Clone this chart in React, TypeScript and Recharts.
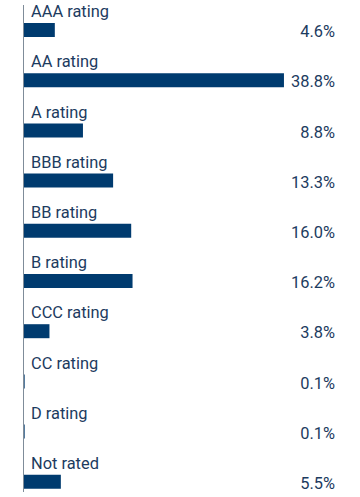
import React from "react";
import { BarChart, Bar, XAxis, YAxis } from "recharts";

const categories = [
  "AAA rating",
  "AA rating",
  "A rating",
  "BBB rating",
  "BB rating",
  "B rating",
  "CCC rating",
  "CC rating",
  "D rating",
  "Not rated",
];
const values = [4.6, 38.8, 8.8, 13.3, 16.0, 16.2, 3.8, 0.1, 0.1, 5.5];

const data = categories.map((name, i) => ({ name, value: values[i] }));
const valueByName: Record<string, number> = {};
data.forEach((d) => (valueByName[d.name] = d.value));

const TEXT = "#1c3b60";
const BAR = "#003b6f";
const AXIS = "#7f8c99";
const FONT = "Roboto, sans-serif";
const FS = 16.4;
const RIGHT_W = 43;

const LeftTick = (props: any) => {
  const { x, y, payload } = props;
  return (
    <text x={x + 7} y={y - 13} fill={TEXT} fontSize={FS} fontFamily={FONT} textAnchor="start">
      {payload.value}
    </text>
  );
};

const RightTick = (props: any) => {
  const { x, y, payload } = props;
  const v = valueByName[payload.value];
  return (
    <text x={x + RIGHT_W} y={y + 7} fill={TEXT} fontSize={FS} fontFamily={FONT} textAnchor="end">
      {v.toFixed(1) + "%"}
    </text>
  );
};

export default function App() {
  return (
    <div style={{ position: "absolute", left: 0, top: 0, background: "#fff" }}>
      <BarChart
        width={360}
        height={497}
        data={data}
        layout="vertical"
        margin={{ top: 5, right: 25, bottom: 5, left: 0 }}
      >
        <XAxis type="number" domain={[0, 40]} hide />
        <YAxis
          yAxisId="left"
          type="category"
          dataKey="name"
          width={24}
          tickLine={false}
          tickSize={0}
          tickMargin={0}
          padding={{ top: 0, bottom: -15 }}
          axisLine={{ stroke: AXIS, strokeWidth: 1, transform: "translate(-0.5,0)" }}
          tick={<LeftTick />}
          interval={0}
        />
        <YAxis
          yAxisId="right"
          orientation="right"
          type="category"
          dataKey="name"
          width={RIGHT_W}
          tickLine={false}
          tickSize={0}
          tickMargin={0}
          padding={{ top: 0, bottom: -15 }}
          axisLine={false}
          tick={<RightTick />}
          interval={0}
        />
        <Bar yAxisId="left" dataKey="value" fill={BAR} barSize={14} isAnimationActive={false} />
      </BarChart>
    </div>
  );
}
